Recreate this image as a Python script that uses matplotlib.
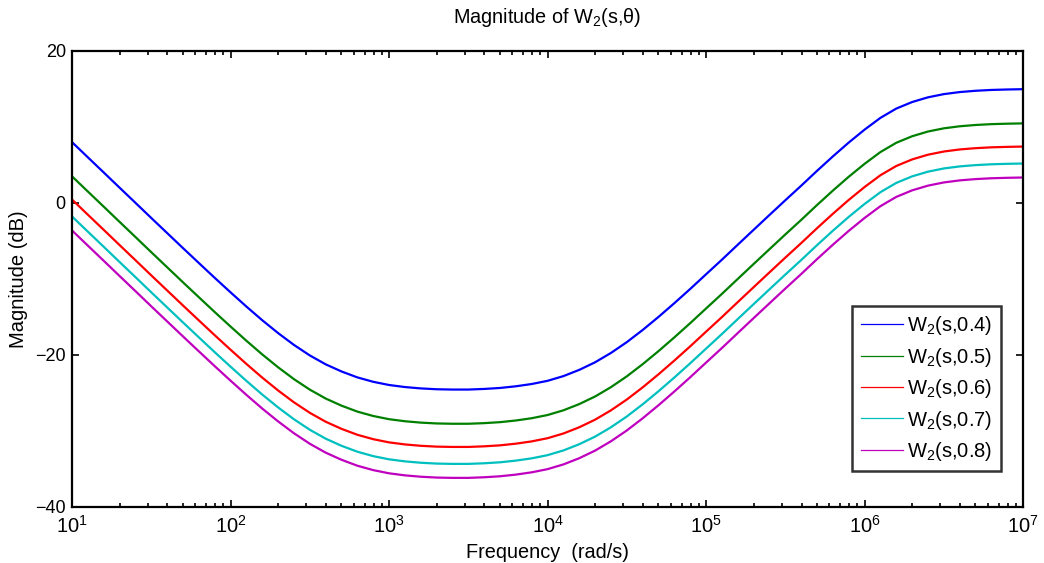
import numpy as np
import matplotlib
matplotlib.use("Agg")
import matplotlib.pyplot as plt
from matplotlib.ticker import LogLocator, FixedLocator, NullFormatter, LogFormatterSciNotation

plt.rcParams['font.family'] = ['Liberation Sans', 'DejaVu Sans']
plt.rcParams['mathtext.fontset'] = 'custom'
plt.rcParams['mathtext.rm'] = 'Liberation Sans'
plt.rcParams['mathtext.it'] = 'Liberation Sans:italic'
plt.rcParams['mathtext.default'] = 'regular'

# frequency grid (rad/s), 10 points per decade
freq = np.logspace(1, 7, 61)
x_ticks = [1e1, 1e2, 1e3, 1e4, 1e5, 1e6, 1e7]
y_ticks = [-40, -20, 0, 20]

# magnitudes in dB
w_04 = [8.00, 6.00, 4.01, 2.01, 0.02, -1.98, -3.96, -5.94, -7.90, -9.85,
        -11.76, -13.63, -15.43, -17.12, -18.68, -20.06, -21.23, -22.17, -22.95, -23.53,
        -23.95, -24.22, -24.40, -24.51, -24.55, -24.55, -24.47, -24.34, -24.12, -23.82,
        -23.40, -22.78, -21.96, -20.96, -19.73, -18.31, -16.71, -14.99, -13.18, -11.31,
        -9.38, -7.46, -5.49, -3.53, -1.58, 0.36, 2.27, 4.23, 6.13, 7.95,
        9.65, 11.20, 12.42, 13.28, 13.90, 14.32, 14.59, 14.76, 14.87, 14.93,
        14.97]
w_05 = [3.50, 1.50, -0.49, -2.49, -4.48, -6.48, -8.46, -10.44, -12.40, -14.35,
        -16.26, -18.13, -19.93, -21.62, -23.18, -24.56, -25.73, -26.67, -27.45, -28.03,
        -28.45, -28.72, -28.90, -29.01, -29.05, -29.05, -28.97, -28.84, -28.62, -28.32,
        -27.90, -27.28, -26.46, -25.46, -24.23, -22.81, -21.21, -19.49, -17.68, -15.81,
        -13.88, -11.96, -9.99, -8.03, -6.08, -4.14, -2.23, -0.27, 1.63, 3.45,
        5.15, 6.70, 7.92, 8.78, 9.40, 9.82, 10.09, 10.26, 10.37, 10.43,
        10.47]
w_06 = [0.45, -1.55, -3.54, -5.54, -7.53, -9.53, -11.51, -13.49, -15.45, -17.40,
        -19.31, -21.18, -22.98, -24.67, -26.23, -27.61, -28.78, -29.72, -30.50, -31.08,
        -31.50, -31.77, -31.95, -32.06, -32.10, -32.10, -32.02, -31.89, -31.67, -31.37,
        -30.95, -30.33, -29.51, -28.51, -27.28, -25.86, -24.26, -22.54, -20.73, -18.86,
        -16.93, -15.01, -13.04, -11.08, -9.13, -7.19, -5.28, -3.32, -1.42, 0.40,
        2.10, 3.65, 4.87, 5.73, 6.35, 6.77, 7.04, 7.21, 7.32, 7.38,
        7.42]
w_07 = [-1.78, -3.78, -5.77, -7.77, -9.76, -11.76, -13.74, -15.72, -17.68, -19.63,
        -21.54, -23.41, -25.21, -26.90, -28.46, -29.84, -31.01, -31.95, -32.73, -33.31,
        -33.73, -34.00, -34.18, -34.29, -34.33, -34.33, -34.25, -34.12, -33.90, -33.60,
        -33.18, -32.56, -31.74, -30.74, -29.51, -28.09, -26.49, -24.77, -22.96, -21.09,
        -19.16, -17.24, -15.27, -13.31, -11.36, -9.42, -7.51, -5.55, -3.65, -1.83,
        -0.13, 1.42, 2.64, 3.50, 4.12, 4.54, 4.81, 4.98, 5.09, 5.15,
        5.19]
w_08 = [-3.62, -5.62, -7.61, -9.61, -11.60, -13.60, -15.58, -17.56, -19.52, -21.47,
        -23.38, -25.25, -27.05, -28.74, -30.30, -31.68, -32.85, -33.79, -34.57, -35.15,
        -35.57, -35.84, -36.02, -36.13, -36.17, -36.17, -36.09, -35.96, -35.74, -35.44,
        -35.02, -34.40, -33.58, -32.58, -31.35, -29.93, -28.33, -26.61, -24.80, -22.93,
        -21.00, -19.08, -17.11, -15.15, -13.20, -11.26, -9.35, -7.39, -5.49, -3.67,
        -1.97, -0.42, 0.80, 1.66, 2.28, 2.70, 2.97, 3.14, 3.25, 3.31,
        3.35]

series = [w_04, w_05, w_06, w_07, w_08]
labels = ['W$_2$(s,0.4)', 'W$_2$(s,0.5)', 'W$_2$(s,0.6)', 'W$_2$(s,0.7)', 'W$_2$(s,0.8)']
colors = [(0, 0, 1), (0, 0.5, 0), (1, 0, 0), (0, 0.75, 0.75), (0.75, 0, 0.75)]

fig = plt.figure(figsize=(10.44, 5.63), dpi=100)
ax = fig.add_axes([0.069, 0.0995, 0.911, 0.81])

for y, lab, c in zip(series, labels, colors):
    ax.semilogx(freq, y, color=c, linewidth=1.6, label=lab)

ax.set_xlim(1e1, 1e7)
ax.set_ylim(-40, 20)
ax.yaxis.set_major_locator(FixedLocator(y_ticks))
ax.xaxis.set_major_locator(FixedLocator(x_ticks))
ax.xaxis.set_major_formatter(LogFormatterSciNotation())
ax.xaxis.set_minor_locator(LogLocator(base=10, subs=np.arange(2, 10), numticks=10))
ax.xaxis.set_minor_formatter(NullFormatter())

for sp in ax.spines.values():
    sp.set_linewidth(1.6)
ax.tick_params(which='both', direction='in', top=True, right=True, width=1.2)
ax.tick_params(which='major', length=5)
ax.tick_params(which='minor', length=3)
ax.tick_params(axis='x', which='major', labelsize=14.5, pad=6)
ax.tick_params(axis='y', which='major', labelsize=13, pad=4.5)

ax.set_title('Magnitude of W$_2$(s,θ)', fontsize=14.3, pad=20)
ax.set_xlabel('Frequency  (rad/s)', fontsize=14.3, labelpad=4)
ax.set_ylabel('Magnitude (dB)', fontsize=14.5, labelpad=5)

leg = ax.legend(loc='upper left', bbox_to_anchor=(0.8202, 0.4414), borderaxespad=0,
                fontsize=14.5, frameon=True, fancybox=False, edgecolor='black',
                handlelength=2.1, handletextpad=0.2, labelspacing=0.42,
                borderpad=0.42)
leg.get_frame().set_linewidth(1.8)
for ln in leg.get_lines():
    ln.set_linewidth(0.9)

fig.savefig('out.png', dpi=100, facecolor='white')
